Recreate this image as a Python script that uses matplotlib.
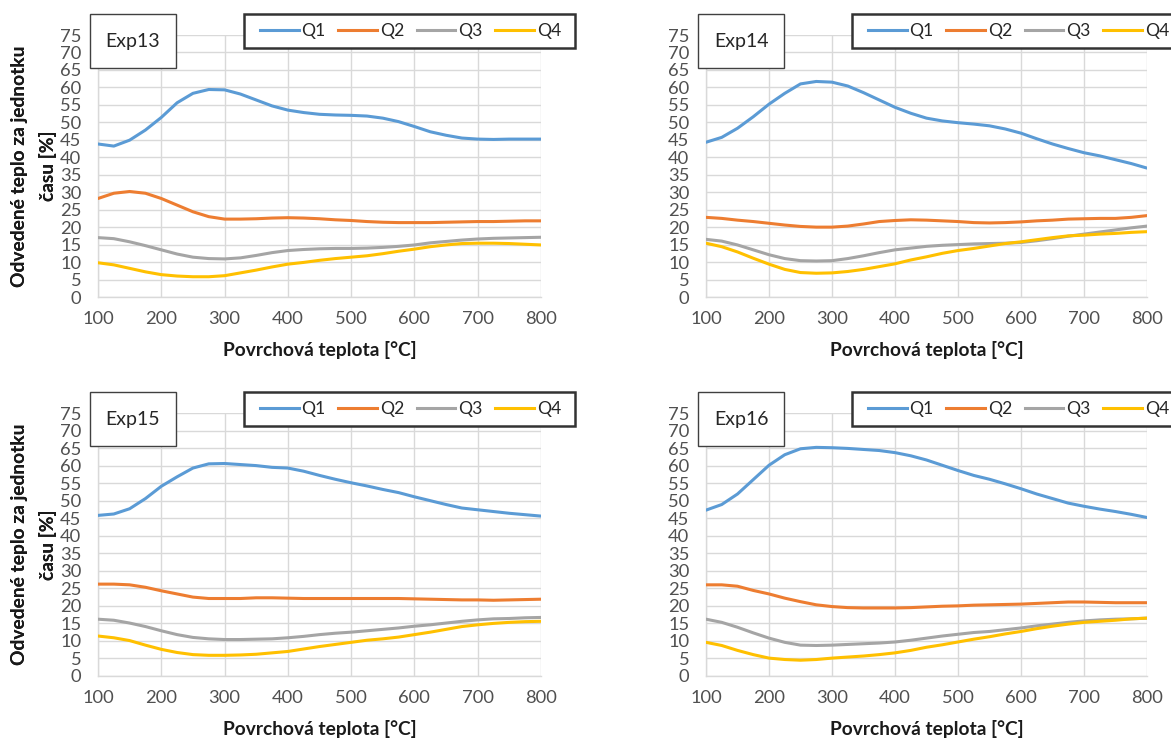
import matplotlib
matplotlib.use('Agg')
import matplotlib.pyplot as plt
from matplotlib.patches import Rectangle
from matplotlib.lines import Line2D

plt.rcParams['font.family'] = ['Lato', 'DejaVu Sans']

# ---------------- data ----------------
temps = [100, 125, 150, 175, 200, 225, 250, 275, 300, 325, 350, 375, 400, 425, 450,
         475, 500, 525, 550, 575, 600, 625, 650, 675, 700, 725, 750, 775, 800]
xticks = [100, 200, 300, 400, 500, 600, 700, 800]
yticks = [0, 5, 10, 15, 20, 25, 30, 35, 40, 45, 50, 55, 60, 65, 70, 75]
series_names = ['Q1', 'Q2', 'Q3', 'Q4']
exp_names = ['Exp13', 'Exp14', 'Exp15', 'Exp16']

exp13_q1 = [43.8, 43.2, 44.9, 47.8, 51.4, 55.6, 58.3, 59.4, 59.3, 58.1, 56.4, 54.7, 53.5, 52.8, 52.3,
            52.1, 52.0, 51.8, 51.2, 50.2, 48.8, 47.3, 46.3, 45.5, 45.2, 45.1, 45.2, 45.2, 45.2]
exp13_q2 = [28.2, 29.7, 30.2, 29.7, 28.2, 26.3, 24.4, 23.0, 22.3, 22.3, 22.4, 22.6, 22.7, 22.6, 22.4,
            22.1, 21.9, 21.6, 21.4, 21.3, 21.3, 21.3, 21.4, 21.5, 21.6, 21.6, 21.7, 21.8, 21.8]
exp13_q3 = [17.0, 16.7, 15.8, 14.7, 13.5, 12.3, 11.4, 11.0, 10.9, 11.2, 11.9, 12.7, 13.3, 13.6, 13.8,
            13.9, 13.9, 14.0, 14.2, 14.5, 14.9, 15.5, 15.9, 16.3, 16.6, 16.8, 16.9, 17.0, 17.1]
exp13_q4 = [9.8, 9.2, 8.2, 7.2, 6.4, 6.0, 5.8, 5.8, 6.1, 6.9, 7.7, 8.6, 9.4, 9.9, 10.5,
            11.0, 11.4, 11.8, 12.4, 13.1, 13.7, 14.4, 14.9, 15.3, 15.4, 15.4, 15.3, 15.1, 14.9]

exp14_q1 = [44.3, 45.7, 48.3, 51.6, 55.2, 58.3, 61.0, 61.7, 61.5, 60.4, 58.5, 56.4, 54.3, 52.6, 51.2,
            50.4, 49.9, 49.5, 49.0, 48.1, 46.9, 45.3, 43.8, 42.5, 41.3, 40.4, 39.3, 38.2, 36.9]
exp14_q2 = [22.8, 22.5, 22.0, 21.6, 21.1, 20.6, 20.2, 20.0, 20.0, 20.3, 20.9, 21.6, 21.9, 22.1, 22.0,
            21.8, 21.6, 21.3, 21.2, 21.3, 21.5, 21.8, 22.0, 22.3, 22.4, 22.5, 22.5, 22.8, 23.3]
exp14_q3 = [16.5, 16.0, 14.9, 13.5, 12.1, 11.0, 10.4, 10.3, 10.4, 11.0, 11.8, 12.7, 13.5, 14.0, 14.5,
            14.8, 15.0, 15.2, 15.3, 15.4, 15.6, 16.1, 16.7, 17.4, 18.0, 18.6, 19.2, 19.8, 20.3]
exp14_q4 = [15.4, 14.4, 12.9, 11.1, 9.4, 7.9, 7.0, 6.8, 6.9, 7.3, 7.9, 8.7, 9.5, 10.6, 11.5,
            12.5, 13.3, 13.9, 14.6, 15.3, 15.8, 16.4, 17.0, 17.5, 17.7, 18.0, 18.2, 18.5, 18.7]

exp15_q1 = [45.8, 46.2, 47.7, 50.6, 54.1, 56.8, 59.3, 60.5, 60.6, 60.3, 60.0, 59.5, 59.3, 58.4, 57.2,
            56.1, 55.1, 54.2, 53.2, 52.3, 51.1, 50.0, 48.9, 47.9, 47.4, 46.9, 46.4, 46.0, 45.6]
exp15_q2 = [26.2, 26.2, 26.0, 25.3, 24.3, 23.4, 22.5, 22.1, 22.1, 22.1, 22.3, 22.3, 22.2, 22.1, 22.1,
            22.1, 22.1, 22.1, 22.1, 22.1, 22.0, 21.9, 21.8, 21.7, 21.7, 21.6, 21.7, 21.8, 21.9]
exp15_q3 = [16.2, 15.9, 15.1, 14.1, 12.9, 11.8, 11.0, 10.6, 10.4, 10.4, 10.5, 10.6, 10.9, 11.3, 11.8,
            12.2, 12.5, 12.9, 13.3, 13.7, 14.2, 14.6, 15.1, 15.6, 16.0, 16.3, 16.4, 16.6, 16.7]
exp15_q4 = [11.4, 10.9, 10.1, 8.8, 7.6, 6.7, 6.1, 5.9, 5.9, 6.0, 6.2, 6.6, 7.0, 7.7, 8.4,
            9.0, 9.6, 10.2, 10.6, 11.1, 11.8, 12.5, 13.3, 14.1, 14.6, 15.0, 15.3, 15.5, 15.6]

exp16_q1 = [47.3, 48.9, 51.9, 56.0, 60.1, 63.1, 64.8, 65.2, 65.1, 64.9, 64.6, 64.3, 63.7, 62.8, 61.6,
            60.1, 58.6, 57.2, 56.1, 54.8, 53.4, 51.9, 50.6, 49.3, 48.4, 47.6, 46.9, 46.1, 45.2]
exp16_q2 = [26.0, 26.0, 25.6, 24.4, 23.4, 22.2, 21.2, 20.3, 19.8, 19.5, 19.4, 19.4, 19.4, 19.5, 19.7,
            19.9, 20.0, 20.2, 20.3, 20.4, 20.5, 20.7, 20.9, 21.1, 21.1, 21.0, 20.9, 20.9, 20.9]
exp16_q3 = [16.2, 15.3, 13.9, 12.3, 10.8, 9.6, 8.8, 8.7, 8.8, 9.0, 9.2, 9.4, 9.7, 10.2, 10.8,
            11.4, 11.9, 12.4, 12.7, 13.2, 13.7, 14.3, 14.8, 15.3, 15.7, 16.0, 16.2, 16.3, 16.5]
exp16_q4 = [9.6, 8.7, 7.3, 6.1, 5.1, 4.7, 4.5, 4.7, 5.1, 5.4, 5.7, 6.1, 6.6, 7.3, 8.2,
            8.9, 9.7, 10.5, 11.2, 12.0, 12.7, 13.5, 14.2, 14.8, 15.3, 15.6, 15.9, 16.3, 16.5]

all_data = [
    [exp13_q1, exp13_q2, exp13_q3, exp13_q4],
    [exp14_q1, exp14_q2, exp14_q3, exp14_q4],
    [exp15_q1, exp15_q2, exp15_q3, exp15_q4],
    [exp16_q1, exp16_q2, exp16_q3, exp16_q4],
]

xlabel = 'Povrchová teplota [°C]'
ylabel = 'Odvedené teplo za jednotku\nčasu [%]'

# ---------------- style ----------------
colors = ['#5B9BD5', '#ED7D31', '#A5A5A5', '#FFC000']
grid_c = '#D9D9D9'
tick_c = '#505050'
lab_c = '#1A1A1A'
FS_TICK = 13.2
FS_LAB = 13.8
FS_LEG = 12.6
FS_EXP = 14

W, H = 1171, 740
fig = plt.figure(figsize=(W / 100, H / 100), dpi=100)

def fx(px):
    return px / W

def fy(py):
    return 1 - py / H

# axes boxes in pixel coords (left, right, top, bottom)
boxes = [(98, 541, 35, 297), (706, 1147, 35, 297),
         (98, 541, 413, 676), (706, 1147, 413, 676)]

for i, (l, r, t, b) in enumerate(boxes):
    ax = fig.add_axes([fx(l), fy(b), fx(r - l), (b - t) / H])
    for j, name in enumerate(series_names):
        ax.plot(temps, all_data[i][j], color=colors[j], lw=2.2,
                solid_capstyle='round', solid_joinstyle='round', zorder=3)
    ax.set_xlim(100, 800)
    ax.set_ylim(0, 75)
    ax.set_xticks(xticks)
    ax.set_yticks(yticks)
    ax.grid(True, color=grid_c, lw=1.0, zorder=0)
    ax.set_axisbelow(True)
    for s in ['top', 'right']:
        ax.spines[s].set_visible(False)
    for s in ['left', 'bottom']:
        ax.spines[s].set_color(grid_c)
        ax.spines[s].set_linewidth(1.0)
    ax.tick_params(length=0, labelsize=FS_TICK, colors=tick_c)
    ax.tick_params(axis='x', pad=10)
    ax.tick_params(axis='y', pad=12)
    ax.set_xlabel(xlabel, fontsize=FS_LAB, fontweight='bold', color=lab_c)
    ax.xaxis.set_label_coords(0.5, -44 / (b - t))
    ax.set_ylabel(ylabel, fontsize=FS_LAB, fontweight='bold', color=lab_c,
                  linespacing=1.75)
    ax.yaxis.set_label_coords(-(l - 57) / (r - l), 0.5)

    # Exp label box
    bx0, bx1, by0, by1 = l - 8, l + 78, t - 21, t + 33
    ax.add_patch(Rectangle((fx(bx0), fy(by1)), fx(bx1 - bx0), (by1 - by0) / H,
                           transform=fig.transFigure, clip_on=False,
                           facecolor='white', edgecolor='#404040', lw=1.0, zorder=10))
    ax.text(fx((bx0 + bx1) / 2), fy((by0 + by1) / 2), exp_names[i],
            transform=fig.transFigure, ha='center', va='center',
            fontsize=FS_EXP, color='#262626', zorder=11)

    # legend frame
    lx0, lx1, ly0, ly1 = l + 146, l + 477, t - 21, t + 13
    ax.add_patch(Rectangle((fx(lx0), fy(ly1)), fx(lx1 - lx0), (ly1 - ly0) / H,
                           transform=fig.transFigure, clip_on=False,
                           facecolor='white', edgecolor='#333333', lw=1.8, zorder=10))
    handles = [Line2D([], [], color=c, lw=2.2) for c in colors]
    leg = ax.legend(handles, series_names, ncol=4, frameon=False,
                    loc='center left',
                    bbox_to_anchor=(fx(lx0 + 16), fy((ly0 + ly1) / 2)),
                    bbox_transform=fig.transFigure,
                    fontsize=FS_LEG, handlelength=2.2, handletextpad=0.17,
                    columnspacing=0.72, borderpad=0, borderaxespad=0)
    for txt in leg.get_texts():
        txt.set_color('#262626')
    leg.set_zorder(20)

fig.savefig('out.png', dpi=100)
